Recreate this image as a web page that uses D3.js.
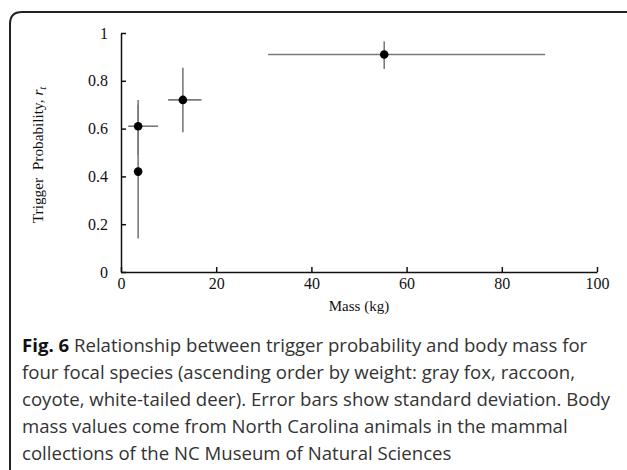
<!DOCTYPE html>
<html>
<head>
<meta charset="utf-8">
<script src="https://d3js.org/d3.v7.min.js"></script>
<style>
  body { margin: 0; background: #fff; }
  svg { display: block; }
</style>
</head>
<body>
<main></main>
<script>
// species in ascending order by weight
var species = ['gray fox', 'raccoon', 'coyote', 'white-tailed deer'];
var mass = [3.6, 3.6, 13.0, 55.3];
var massLow = [3.6, 1.5, 9.9, 30.9];
var massHigh = [3.6, 7.8, 16.9, 89.1];
var prob = [0.42, 0.61, 0.72, 0.91];
var probLow = [0.14, 0.49, 0.585, 0.85];
var probHigh = [0.70, 0.72, 0.855, 0.965];
var xTicks = [0, 20, 40, 60, 80, 100];
var yTicks = [0, 0.2, 0.4, 0.6, 0.8, 1];
var caption = [
    'Relationship between trigger probability and body mass for',
    'four focal species (ascending order by weight: gray fox, raccoon,',
    'coyote, white-tailed deer). Error bars show standard deviation. Body',
    'mass values come from North Carolina animals in the mammal',
    'collections of the NC Museum of Natural Sciences'
];

!function(){
    var W = 627, H = 470;
    var m = {left: 121, right: 30, top: 33, bottom: 198};

    var data = species.map(function(s, i) {
        return {name: s, x: mass[i], x0: massLow[i], x1: massHigh[i],
                y: prob[i], y0: probLow[i], y1: probHigh[i]};
    });

    var svg = d3.select('main').append('svg')
        .attr('width', W)
        .attr('height', H);

    // frame
    svg.append('path')
        .attr('d', 'M10,472 L10,24 Q10,12 22,12 L630,12')
        .attr('fill', 'none')
        .attr('stroke', '#222')
        .attr('stroke-width', 2);

    var x = d3.scaleLinear().domain([0, 100]).range([m.left, W - m.right]);
    var y = d3.scaleLinear().domain([0, 1]).range([H - m.bottom, m.top]);

    var xAxis = d3.axisBottom(x).tickValues(xTicks).tickSize(-5).tickPadding(6)
        .tickSizeOuter(0).tickFormat(d3.format('d'));
    var yAxis = d3.axisLeft(y).tickValues(yTicks).tickSize(-5).tickPadding(13)
        .tickSizeOuter(0).tickFormat(function(d) { return d === 0 || d === 1 ? d : d3.format('.1f')(d); });

    var gx = svg.append('g')
        .attr('transform', 'translate(0,' + (H - m.bottom) + ')')
        .call(xAxis);
    var gy = svg.append('g')
        .attr('transform', 'translate(' + m.left + ',0)')
        .call(yAxis);

    [gx, gy].forEach(function(g) {
        g.selectAll('path, line').attr('stroke', '#111').attr('stroke-width', 1.5);
        g.selectAll('text').attr('font-family', 'Liberation Serif')
            .attr('font-size', 16).attr('fill', '#111');
    });

    svg.append('text')
        .attr('x', (x(0) + x(100)) / 2)
        .attr('y', H - m.bottom + 39)
        .attr('text-anchor', 'middle')
        .attr('font-family', 'Liberation Serif')
        .attr('font-size', 15)
        .attr('fill', '#111')
        .text('Mass (kg)');

    var yt = svg.append('text')
        .attr('transform', 'translate(43,' + y(0.49) + ') rotate(-90)')
        .attr('text-anchor', 'middle')
        .attr('font-family', 'Liberation Serif')
        .attr('font-size', 15.3)
        .attr('fill', '#111');
    yt.append('tspan').text('Trigger\u00a0 Probability, ');
    yt.append('tspan').attr('font-style', 'italic').text('r');
    yt.append('tspan').attr('font-style', 'italic').attr('font-size', 11).attr('dy', 3).text('t');

    // error bars
    var bars = svg.append('g').attr('stroke', '#7a7a7a').attr('stroke-width', 1.6);
    bars.selectAll('line.h').data(data).join('line')
        .attr('class', 'h')
        .attr('x1', function(d) { return x(d.x0); })
        .attr('x2', function(d) { return x(d.x1); })
        .attr('y1', function(d) { return y(d.y); })
        .attr('y2', function(d) { return y(d.y); });
    bars.selectAll('line.v').data(data).join('line')
        .attr('class', 'v')
        .attr('x1', function(d) { return x(d.x); })
        .attr('x2', function(d) { return x(d.x); })
        .attr('y1', function(d) { return y(d.y0); })
        .attr('y2', function(d) { return y(d.y1); });

    svg.append('g').selectAll('circle').data(data).join('circle')
        .attr('cx', function(d) { return x(d.x); })
        .attr('cy', function(d) { return y(d.y); })
        .attr('r', 4.3)
        .attr('fill', '#000');

    // caption
    var cap = svg.append('g')
        .attr('font-family', 'Open Sans')
        .attr('font-size', 18.6)
        .attr('fill', '#333');
    caption.forEach(function(line, i) {
        var t = cap.append('text').attr('x', 22).attr('y', 352 + i * 27);
        if (i === 0) {
            t.append('tspan').attr('font-weight', 'bold').attr('fill', '#111').text('Fig. 6');
            t.append('tspan').text(' ' + line);
        } else {
            t.text(line);
        }
    });
}();
</script>
</body>
</html>
